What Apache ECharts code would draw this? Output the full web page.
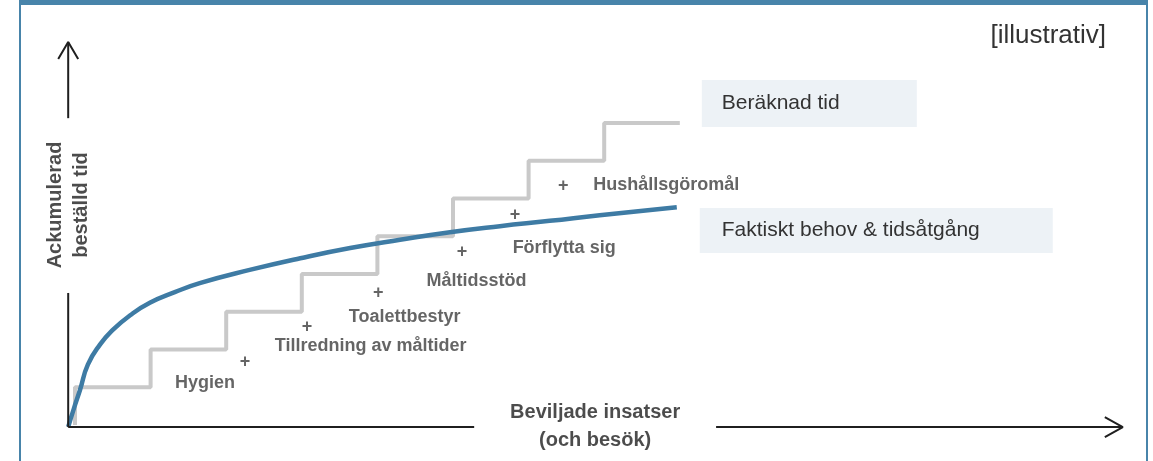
<!DOCTYPE html>
<html><head><meta charset="utf-8">
<script src="https://cdn.jsdelivr.net/npm/echarts@6/dist/echarts.min.js"></script>
<style>html,body{margin:0;padding:0;background:#fff}#c{width:1153px;height:461px}</style>
</head><body><div id="c"></div>
<script>
// ---- data (arbitrary units: x = insats index, y = accumulated time) ----
const insatser = ['Hygien', 'Tillredning av måltider', 'Toalettbestyr', 'Måltidsstöd', 'Förflytta sig', 'Hushållsgöromål'];
const stairX = [0, 1, 2, 3, 4, 5, 6, 7, 8];
const stairY = [0, 1, 2, 3, 4, 5, 6, 7, 8];
const curveX = [-0.09, -0.013, 0.066, 0.17, 0.33, 0.50, 0.73, 0.99, 1.32, 1.65, 2.31, 2.98, 3.64, 4.30, 4.96, 5.62, 6.28, 6.94, 7.96];
const curveY = [-0.05, 0.45, 0.93, 1.60, 2.13, 2.52, 2.91, 3.24, 3.52, 3.76, 4.11, 4.42, 4.69, 4.91, 5.11, 5.27, 5.41, 5.56, 5.77];
const seriesNames = ['Beräknad tid', 'Faktiskt behov & tidsåtgång'];
const axisTitleX = 'Beviljade insatser\n(och besök)';
const axisTitleY = 'Ackumulerad\nbeställd tid';
const noteText = '[illustrativ]';

// ---- annotation anchors (data units) ----
const labelPos = [[1.72, 1.11], [3.91, 2.09], [4.36, 2.86], [5.31, 3.81], [6.47, 4.69], [7.82, 6.36]];
const plusPos = [[2.25, 1.67], [3.07, 2.60], [4.01, 3.50], [5.12, 4.58], [5.82, 5.56], [6.46, 6.33]];
const axisX0 = -0.09, axisY0 = -0.053;
const yAxisTop = 10.15, yGap = [3.50, 8.13];
const xAxisEnd = 13.86, xGap = [5.28, 8.48];
const xTitlePos = [6.88, -0.03];
const yTitlePos = [-0.08, 5.83];

const FONT = "'Liberation Sans', Arial, Helvetica, sans-serif";
const AXIS_COLOR = '#1f1f1f';
const LABEL_COLOR = '#3f3f3f';
const FRAME = '#4884aa';

function axisSeg(pts) {
  return {
    type: 'line', data: pts, symbol: 'none', silent: true, clip: false, z: 5,
    lineStyle: { color: AXIS_COLOR, width: 2 }, animation: false
  };
}

const stairData = stairX.map((x, i) => {
  if (i === stairX.length - 1) {
    return {
      value: [x, stairY[i]],
      label: {
        show: true, position: 'right', distance: 0, offset: [22, -19.5],
        formatter: seriesNames[0], backgroundColor: '#edf2f6',
        padding: [13, 0, 13, 20], width: 195, fontSize: 21, lineHeight: 21,
        color: '#333', fontFamily: FONT
      }
    };
  }
  return [x, stairY[i]];
});
const curveData = curveX.map((x, i) => {
  if (i === curveX.length - 1) {
    return {
      value: [x, curveY[i]],
      label: {
        show: true, position: 'right', distance: 0, offset: [23, 23.2],
        formatter: seriesNames[1], backgroundColor: '#edf2f6',
        padding: [12, 0, 12, 22], width: 331, fontSize: 21, lineHeight: 21,
        color: '#333', fontFamily: FONT
      }
    };
  }
  return [x, curveY[i]];
});

const chart = echarts.init(document.getElementById('c'), null, { renderer: 'canvas' });
chart.setOption({
  animation: false,
  backgroundColor: '#fff',
  grid: { left: 37.2, right: 19.6, top: 28.7, bottom: 17.03, containLabel: false, outerBoundsMode: 'none' },
  xAxis: { type: 'value', min: -0.5, max: 14, show: false },
  yAxis: { type: 'value', min: -0.5, max: 10.5, show: false },
  graphic: [
    { type: 'rect', shape: { x: 19, y: 0, width: 1129, height: 5 }, style: { fill: FRAME }, z: 100 },
    { type: 'rect', shape: { x: 19, y: 0, width: 2, height: 461 }, style: { fill: FRAME }, z: 100 },
    { type: 'rect', shape: { x: 1146, y: 0, width: 2, height: 461 }, style: { fill: FRAME }, z: 100 },
    { type: 'text', x: 1106, y: 36, style: { text: noteText, fontSize: 26, fontFamily: FONT, fill: '#333', align: 'right', verticalAlign: 'middle' }, z: 100 }
  ],
  series: [
    {
      name: seriesNames[0], type: 'line', step: 'start', data: stairData,
      showSymbol: true, symbol: 'circle', symbolSize: 0, clip: false, z: 2,
      lineStyle: { color: '#c9c9c9', width: 4 }, itemStyle: { color: '#c9c9c9' }, silent: true
    },
    {
      name: seriesNames[1], type: 'line', smooth: 0.5, data: curveData,
      showSymbol: true, symbol: 'circle', symbolSize: 0, clip: false, z: 3,
      lineStyle: { color: '#3e7ba4', width: 4.5 }, itemStyle: { color: '#3e7ba4' }, silent: true
    },
    axisSeg([[axisX0, axisY0], [axisX0, yGap[0]]]),
    axisSeg([[axisX0, yGap[1]], [axisX0, yAxisTop]]),
    axisSeg([[axisX0 - 0.132, yAxisTop - 0.45], [axisX0, yAxisTop], [axisX0 + 0.132, yAxisTop - 0.45]]),
    axisSeg([[axisX0, axisY0], [xGap[0], axisY0]]),
    axisSeg([[xGap[1], axisY0], [xAxisEnd, axisY0]]),
    axisSeg([[xAxisEnd - 0.238, axisY0 + 0.265], [xAxisEnd, axisY0], [xAxisEnd - 0.238, axisY0 - 0.265]]),
    {
      type: 'scatter', symbolSize: 0, silent: true, z: 6,
      data: labelPos.map((p, i) => ({ value: p, name: insatser[i] })),
      label: { show: true, position: 'inside', formatter: '{b}', fontSize: 18, fontWeight: 'bold', color: LABEL_COLOR, fontFamily: FONT }
    },
    {
      type: 'scatter', symbolSize: 0, silent: true, z: 6,
      data: plusPos.map(p => ({ value: p })),
      label: { show: true, position: 'inside', formatter: '+', fontSize: 18, fontWeight: 'bold', color: LABEL_COLOR, fontFamily: FONT }
    },
    {
      type: 'scatter', symbolSize: 0, silent: true, z: 6,
      data: [{ value: xTitlePos }],
      label: { show: true, position: 'inside', formatter: axisTitleX, fontSize: 20, lineHeight: 28, fontWeight: 'bold', color: AXIS_COLOR, fontFamily: FONT, align: 'center' }
    },
    {
      type: 'scatter', symbolSize: 0, silent: true, z: 6,
      data: [{ value: yTitlePos }],
      label: { show: true, position: 'inside', rotate: 90, formatter: axisTitleY, fontSize: 20, lineHeight: 26, fontWeight: 'bold', color: AXIS_COLOR, fontFamily: FONT, align: 'center' }
    }
  ]
});
</script>
</body></html>
